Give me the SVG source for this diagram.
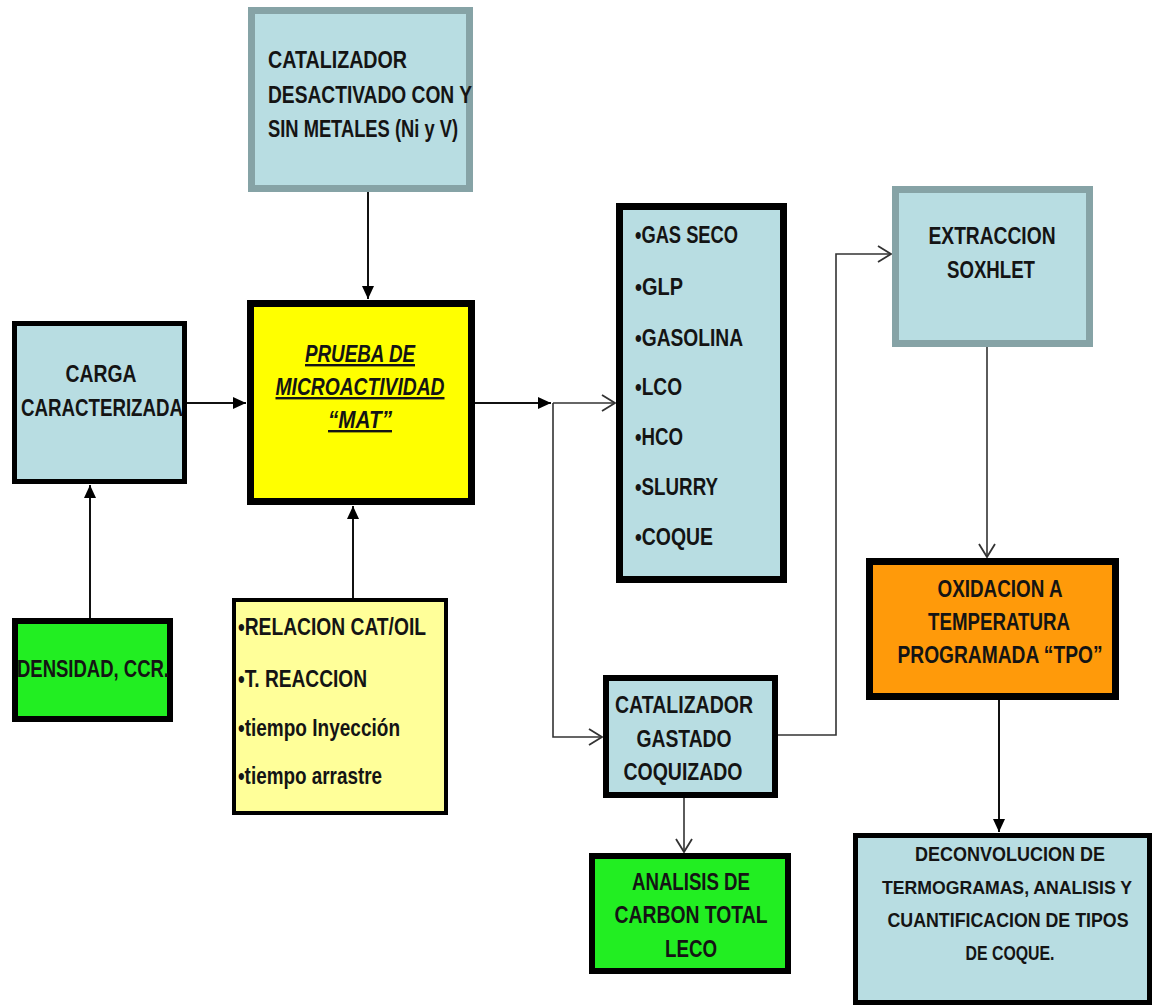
<svg xmlns="http://www.w3.org/2000/svg" width="1154" height="1007" viewBox="0 0 1154 1007">
<style>
text{font-family:"Liberation Sans",Arial,sans-serif;font-weight:bold;font-size:24px;fill:#141414}
.c{text-anchor:middle}
.mat{font-style:italic;text-decoration:underline}
.sm{font-size:19.5px}
.xs{font-size:18px}
.blue{fill:#b8dde2}
.k{stroke:#000}
.g{stroke:#86a3a6}
.ln{fill:none;stroke:#111;stroke-width:2}
.ln2{fill:none;stroke:#333;stroke-width:1.6}
</style>
<defs>
<marker id="fa" markerUnits="userSpaceOnUse" markerWidth="14" markerHeight="14" refX="13" refY="7" orient="auto">
<path d="M0,1 L13,7 L0,13 z" fill="#000"/>
</marker>
<marker id="oa" markerUnits="userSpaceOnUse" markerWidth="16" markerHeight="18" refX="14" refY="9" orient="auto">
<path d="M1,1 L14,9 L1,17" fill="none" stroke="#333" stroke-width="1.8"/>
</marker>
</defs>
<rect width="1154" height="1007" fill="#fff"/>

<g id="connectors">
<path class="ln" d="M368,192 V299" marker-end="url(#fa)"/>
<path class="ln" d="M187,403 H246" marker-end="url(#fa)"/>
<path class="ln" d="M90,618 V485" marker-end="url(#fa)"/>
<path class="ln" d="M353,598 V506" marker-end="url(#fa)"/>
<path class="ln" d="M475,403 H551" marker-end="url(#fa)"/>
<path class="ln2" d="M553,403 H615" marker-end="url(#oa)"/>
<path class="ln2" d="M553,403 V737 H602" marker-end="url(#oa)"/>
<path class="ln2" d="M778,735 H836 V254 H891" marker-end="url(#oa)"/>
<path class="ln2" d="M987,347 V557" marker-end="url(#oa)"/>
<path class="ln2" d="M684,798 V852" marker-end="url(#oa)"/>
<path class="ln" d="M999,700 V832" marker-end="url(#fa)"/>
</g>

<g id="catalizador-desactivado">
<rect class="blue g" x="251.5" y="10.5" width="218" height="178" stroke-width="7"/>
<text x="268" y="68" textLength="139" lengthAdjust="spacingAndGlyphs">CATALIZADOR</text>
<text x="268" y="103" textLength="204" lengthAdjust="spacingAndGlyphs">DESACTIVADO CON Y</text>
<text x="268" y="137" textLength="190" lengthAdjust="spacingAndGlyphs">SIN METALES (Ni y V)</text>
</g>

<g id="carga">
<rect class="blue k" x="14.5" y="323.5" width="170" height="158" stroke-width="5"/>
<text class="c" x="101" y="382" textLength="71" lengthAdjust="spacingAndGlyphs">CARGA</text>
<text class="c" x="102" y="416" textLength="162" lengthAdjust="spacingAndGlyphs">CARACTERIZADA</text>
</g>

<g id="mat">
<rect x="250.5" y="303.5" width="221" height="198" fill="#ffff00" class="k" stroke-width="7"/>
<text class="c mat" x="360" y="362" textLength="110" lengthAdjust="spacingAndGlyphs">PRUEBA DE</text>
<text class="c mat" x="360" y="395" textLength="169" lengthAdjust="spacingAndGlyphs">MICROACTIVIDAD</text>
<text class="c mat" x="360" y="428" textLength="64" lengthAdjust="spacingAndGlyphs">“MAT”</text>
</g>

<g id="densidad">
<rect x="15" y="621" width="155" height="98" fill="#22ee22" class="k" stroke-width="6"/>
<text class="c" x="93" y="677" textLength="152" lengthAdjust="spacingAndGlyphs">DENSIDAD, CCR.</text>
</g>

<g id="parametros">
<rect x="234" y="600" width="212" height="213" fill="#ffff99" class="k" stroke-width="4"/>
<text x="238" y="635" textLength="188" lengthAdjust="spacingAndGlyphs">•RELACION CAT/OIL</text>
<text x="238" y="687" textLength="129" lengthAdjust="spacingAndGlyphs">•T. REACCION</text>
<text x="238" y="736" textLength="162" lengthAdjust="spacingAndGlyphs">•tiempo Inyección</text>
<text x="238" y="784" textLength="144" lengthAdjust="spacingAndGlyphs">•tiempo arrastre</text>
</g>

<g id="productos">
<rect class="blue k" x="619.5" y="206.5" width="164" height="373" stroke-width="7"/>
<text x="635" y="243" textLength="103" lengthAdjust="spacingAndGlyphs">•GAS SECO</text>
<text x="635" y="295" textLength="48" lengthAdjust="spacingAndGlyphs">•GLP</text>
<text x="635" y="346" textLength="108" lengthAdjust="spacingAndGlyphs">•GASOLINA</text>
<text x="635" y="395" textLength="47" lengthAdjust="spacingAndGlyphs">•LCO</text>
<text x="635" y="445" textLength="48" lengthAdjust="spacingAndGlyphs">•HCO</text>
<text x="635" y="495" textLength="83" lengthAdjust="spacingAndGlyphs">•SLURRY</text>
<text x="635" y="545" textLength="78" lengthAdjust="spacingAndGlyphs">•COQUE</text>
</g>

<g id="soxhlet">
<rect class="blue g" x="895.5" y="189.5" width="194" height="154" stroke-width="7"/>
<text class="c" x="992" y="244" textLength="127" lengthAdjust="spacingAndGlyphs">EXTRACCION</text>
<text class="c" x="991" y="278" textLength="88" lengthAdjust="spacingAndGlyphs">SOXHLET</text>
</g>

<g id="catalizador-gastado">
<rect class="blue k" x="606" y="678" width="169" height="117" stroke-width="6"/>
<text class="c" x="684" y="713" textLength="138" lengthAdjust="spacingAndGlyphs">CATALIZADOR</text>
<text class="c" x="684" y="747" textLength="95" lengthAdjust="spacingAndGlyphs">GASTADO</text>
<text class="c" x="683" y="780" textLength="119" lengthAdjust="spacingAndGlyphs">COQUIZADO</text>
</g>

<g id="tpo">
<rect x="869.5" y="561.5" width="246" height="135" fill="#ff9a0a" class="k" stroke-width="7"/>
<text class="c" x="1000" y="597" textLength="125" lengthAdjust="spacingAndGlyphs">OXIDACION A</text>
<text class="c" x="999" y="630" textLength="142" lengthAdjust="spacingAndGlyphs">TEMPERATURA</text>
<text class="c" x="1000" y="663" textLength="205" lengthAdjust="spacingAndGlyphs">PROGRAMADA “TPO”</text>
</g>

<g id="leco">
<rect x="592" y="856" width="196" height="115" fill="#22ee22" class="k" stroke-width="6"/>
<text class="c" x="691" y="890" textLength="118" lengthAdjust="spacingAndGlyphs">ANALISIS DE</text>
<text class="c" x="691" y="923" textLength="153" lengthAdjust="spacingAndGlyphs">CARBON TOTAL</text>
<text class="c" x="691" y="957" textLength="52" lengthAdjust="spacingAndGlyphs">LECO</text>
</g>

<g id="deconvolucion">
<rect class="blue k" x="855.5" y="835.5" width="294" height="167" stroke-width="5"/>
<text class="c sm" x="1010" y="861" textLength="190" lengthAdjust="spacingAndGlyphs">DECONVOLUCION DE</text>
<text class="c xs" x="1007" y="894" textLength="250" lengthAdjust="spacingAndGlyphs">TERMOGRAMAS, ANALISIS Y</text>
<text class="c sm" x="1008" y="927" textLength="241" lengthAdjust="spacingAndGlyphs">CUANTIFICACION DE TIPOS</text>
<text class="c sm" x="1010" y="960" textLength="89" lengthAdjust="spacingAndGlyphs">DE COQUE.</text>
</g>
</svg>
